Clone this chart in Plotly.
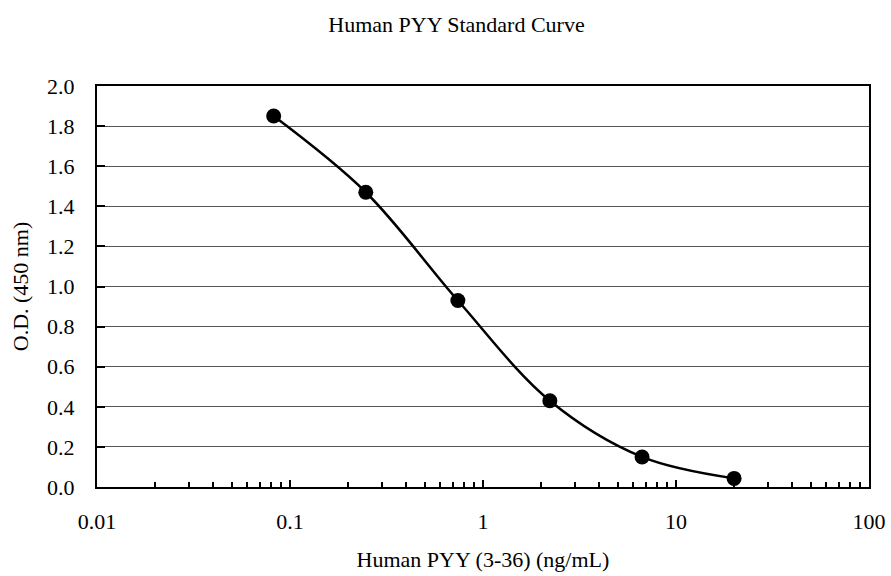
import plotly.graph_objects as go

# Data (3-fold dilution series)
concentration = [0.0823, 0.247, 0.741, 2.22, 6.67, 20.0]
od_450 = [1.85, 1.47, 0.93, 0.43, 0.15, 0.043]

x_tick_vals = [0.01, 0.1, 1, 10, 100]
x_tick_text = ["0.01", "0.1", "1", "10", "100"]
x_minor_vals = [m * 10.0 ** e for e in range(-2, 2) for m in range(2, 10)]

title_text = "Human PYY Standard Curve"
x_title = "Human PYY (3-36) (ng/mL)"
y_title = "O.D. (450 nm)"

FONT = "Liberation Serif, Times New Roman, serif"
FS = 22

fig = go.Figure()
fig.add_trace(go.Scatter(
    x=concentration, y=od_450,
    mode="lines+markers",
    line=dict(color="black", width=2.5, shape="spline", smoothing=1.0),
    marker=dict(color="black", size=15),
    showlegend=False,
))

fig.update_layout(
    width=891, height=576,
    margin=dict(l=97, r=22, t=86, b=89, autoexpand=False),
    paper_bgcolor="white", plot_bgcolor="white",
    font=dict(family=FONT, size=FS, color="black"),
    title=dict(text=title_text, x=456.5 / 891, xanchor="center", xref="container",
               y=1 - 24 / 576, yanchor="middle", yref="container",
               font=dict(family=FONT, size=FS, color="black"),
               automargin=False),
)

fig.update_xaxes(
    type="log", range=[-2, 2], automargin=False,
    tickmode="array", tickvals=x_tick_vals, ticktext=x_tick_text,
    ticks="inside", ticklen=7, tickwidth=1.5, tickcolor="black",
    minor=dict(tickmode="array", tickvals=x_minor_vals, ticks="inside",
               ticklen=5, tickwidth=1.5, tickcolor="black", showgrid=False),
    showgrid=False, zeroline=False,
    showline=True, linecolor="black", linewidth=2, mirror=True,
    ticklabelstandoff=14,
    title=dict(text=x_title, standoff=18, font=dict(family=FONT, size=FS)),
)

fig.update_yaxes(
    range=[0, 2], dtick=0.2, tick0=0, tickformat=".1f", automargin=False,
    ticks="inside", ticklen=8, tickwidth=1.5, tickcolor="black",
    showgrid=True, gridcolor="#555555", gridwidth=1.2,
    zeroline=False,
    showline=True, linecolor="black", linewidth=2, mirror=True,
    ticklabelstandoff=16,
    title=dict(text=y_title, standoff=12, font=dict(family=FONT, size=FS)),
)

fig.write_html(
    "out.html",
    config={"displayModeBar": False},
    post_script="document.body.style.margin='0';document.body.style.padding='0';",
)
